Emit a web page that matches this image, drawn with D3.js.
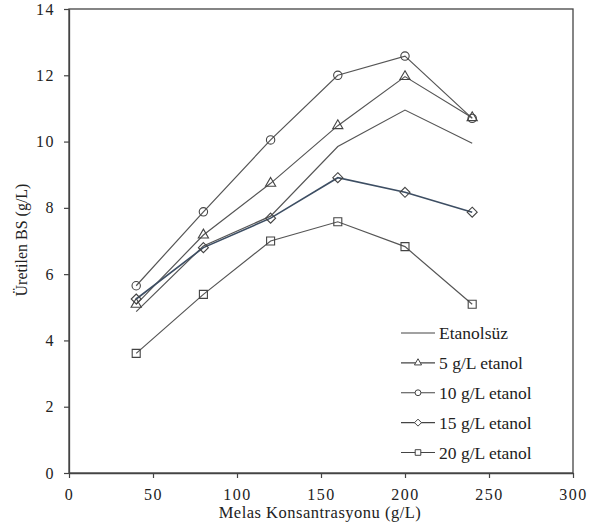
<!DOCTYPE html>
<html>
<head>
<meta charset="utf-8">
<script src="https://cdn.jsdelivr.net/npm/d3@7"></script>
<style>
  body { margin: 0; background: #fff; }
  svg text { font-family: "Liberation Serif", "DejaVu Serif", serif; fill: #222; }
</style>
</head>
<body>
<div id="chart"></div>
<script>
// data
let xValues = [40, 80, 120, 160, 200, 240];
let etanolsuz = [4.87, 6.85, 7.75, 9.85, 10.95, 9.95];
let etanol5 = [5.09, 7.18, 8.74, 10.48, 11.96, 10.72];
let etanol10 = [5.65, 7.88, 10.05, 12.0, 12.58, 10.7];
let etanol15 = [5.25, 6.8, 7.69, 8.91, 8.47, 7.87];
let etanol20 = [3.61, 5.39, 7.0, 7.58, 6.83, 5.09];
let seriesNames = ["Etanolsüz", "5 g/L etanol", "10 g/L etanol", "15 g/L etanol", "20 g/L etanol"];
let xTicks = [0, 50, 100, 150, 200, 250, 300];
let yTicks = [0, 2, 4, 6, 8, 10, 12, 14];

let serif = "'Liberation Serif', 'DejaVu Serif', serif";

let dim = {
    width: 596, height: 526,
    margin: { top: 9, right: 23, bottom: 53, left: 69 }
};
dim.plot = {
    width: dim.width - dim.margin.left - dim.margin.right,
    height: dim.height - dim.margin.top - dim.margin.bottom
};

let series = [
    { name: seriesNames[0], values: etanolsuz, marker: null, color: "#555" },
    { name: seriesNames[1], values: etanol5, marker: "triangle", color: "#555" },
    { name: seriesNames[2], values: etanol10, marker: "circle", color: "#555" },
    { name: seriesNames[3], values: etanol15, marker: "diamond", color: "#3d4e63" },
    { name: seriesNames[4], values: etanol20, marker: "square", color: "#555" }
];

let x = d3.scaleLinear().domain([0, 300]).range([0, dim.plot.width]);
let y = d3.scaleLinear().domain([0, 14]).range([dim.plot.height, 0]);

let svg = d3.select("#chart").append("svg")
        .attr("width", dim.width)
        .attr("height", dim.height)
        .style("font-family", serif);

let g = svg.append("g")
        .attr("transform", "translate(" + dim.margin.left + "," + dim.margin.top + ")");

// frame
g.append("rect")
        .attr("width", dim.plot.width)
        .attr("height", dim.plot.height)
        .attr("fill", "none")
        .attr("stroke", "#444")
        .attr("stroke-width", 1.3);

let xAxis = d3.axisBottom(x).tickValues(xTicks).tickSize(5).tickSizeOuter(0);
let yAxis = d3.axisLeft(y).tickValues(yTicks).tickSize(5).tickSizeOuter(0);

let gx = g.append("g")
        .attr("transform", "translate(0," + dim.plot.height + ")")
        .call(xAxis);
let gy = g.append("g").call(yAxis);

[gx, gy].forEach(function(a) {
    a.attr("font-family", null);
    a.select(".domain").attr("stroke", "#444").attr("stroke-width", 1.3);
    a.selectAll(".tick line").attr("stroke", "#444").attr("stroke-width", 1.2);
    a.selectAll(".tick text")
        .style("font-family", serif)
        .style("font-size", "16px")
        .style("letter-spacing", "1.5px")
        .attr("fill", "#222");
});
gx.selectAll(".tick text").attr("y", 27).attr("dy", 0);
gy.selectAll(".tick text").attr("x", -14);

// axis titles
svg.append("text")
        .attr("x", 320)
        .attr("y", 518)
        .attr("text-anchor", "middle")
        .style("font-family", serif)
        .style("font-size", "16.5px")
        .style("letter-spacing", "0.5px")
        .text("Melas Konsantrasyonu (g/L)");

svg.append("text")
        .attr("transform", "translate(27,240) rotate(-90)")
        .attr("text-anchor", "middle")
        .style("font-family", serif)
        .style("font-size", "16px")
        .text("Üretilen BS (g/L)");

function markerPath(type, s) {
    if (type === "triangle") return d3.symbol(d3.symbolTriangle, s * s * 0.45)();
    if (type === "circle") return d3.symbol(d3.symbolCircle, s * s * 0.55)();
    if (type === "square") return d3.symbol(d3.symbolSquare, s * s * 0.64)();
    if (type === "diamond") return "M0," + (-s / 2) + "L" + (s / 2) + ",0L0," + (s / 2) + "L" + (-s / 2) + ",0Z";
    return null;
}

let line = d3.line()
        .x(function(d, i) { return x(xValues[i]); })
        .y(function(d) { return y(d); });

series.forEach(function(s) {
    let sg = g.append("g");
    sg.append("path")
        .datum(s.values)
        .attr("fill", "none")
        .attr("stroke", s.color)
        .attr("stroke-width", s.marker === "diamond" ? 1.6 : 1.2)
        .attr("d", line);
    if (s.marker) {
        sg.selectAll("path.mk").data(s.values).enter()
            .append("path")
            .attr("class", "mk")
            .attr("transform", function(d, i) { return "translate(" + x(xValues[i]) + "," + y(d) + ")"; })
            .attr("d", markerPath(s.marker, 10))
            .attr("fill", "none")
            .attr("stroke", "#444")
            .attr("stroke-width", 1.1);
    }
});

// legend
let legend = svg.append("g");
let legendY = d3.scalePoint().domain(seriesNames).range([333, 452.5]);
series.forEach(function(s) {
    let ly = legendY(s.name);
    legend.append("line")
        .attr("x1", 401).attr("x2", 435)
        .attr("y1", ly).attr("y2", ly)
        .attr("stroke", "#444")
        .attr("stroke-width", 1.2);
    if (s.marker) {
        legend.append("path")
            .attr("transform", "translate(418," + ly + ")")
            .attr("d", markerPath(s.marker, 7))
            .attr("fill", "#fff")
            .attr("stroke", "#444")
            .attr("stroke-width", 1);
    }
    legend.append("text")
        .attr("x", 439)
        .attr("y", ly)
        .attr("dy", "0.35em")
        .style("font-family", serif)
        .style("font-size", "17.5px")
        .text(s.name);
});
</script>
</body>
</html>
